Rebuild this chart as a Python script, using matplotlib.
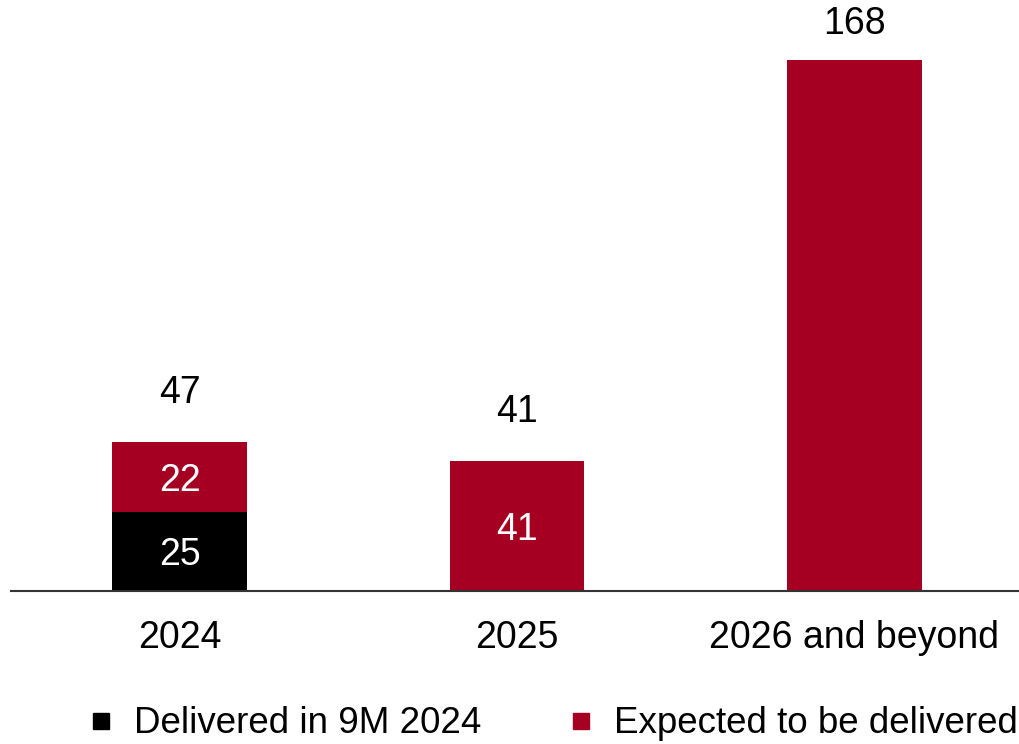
import matplotlib
matplotlib.use("Agg")
import matplotlib.pyplot as plt
from matplotlib.lines import Line2D

plt.rcParams['font.family'] = ['Liberation Sans', 'DejaVu Sans']

# data
categories = ['2024', '2025', '2026 and beyond']
delivered = [25, 0, 0]
expected = [22, 41, 168]
totals = [47, 41, 168]

red = '#A50021'
fs = 27

fig = plt.figure(figsize=(10.2, 7.44), dpi=100)
ax = fig.add_axes([11 / 1020, 153 / 744, 1012 / 1020, 569 / 744])

x = range(len(categories))
ax.bar(x, delivered, width=0.4, color='black')
ax.bar(x, expected, width=0.4, bottom=delivered, color=red)

# labels inside segments
for i in x:
    if delivered[i]:
        ax.text(i, delivered[i] / 2, str(delivered[i]), color='white',
                ha='center', va='center_baseline', fontsize=fs)
    if expected[i] and expected[i] < 100:
        ax.text(i, delivered[i] + expected[i] / 2, str(expected[i]), color='white',
                ha='center', va='center_baseline', fontsize=fs)

# totals above bars
for i in x:
    off = 18 if totals[i] > 150 else 31
    ax.annotate(str(totals[i]), (i, totals[i]), xytext=(0, off),
                textcoords='offset pixels', ha='center', va='bottom', fontsize=fs)

ax.set_xlim(-0.5, 2.5)
ax.set_ylim(0, 180)
ax.set_xticks(list(x))
ax.set_xticklabels(categories, fontsize=fs)
ax.tick_params(axis='x', length=0, pad=21)
ax.set_yticks([])
for s in ['top', 'right', 'left']:
    ax.spines[s].set_visible(False)
ax.spines['bottom'].set_color('#333333')
ax.spines['bottom'].set_linewidth(1.5)

handles = [Line2D([], [], marker='s', linestyle='', color='black', markersize=11),
           Line2D([], [], marker='s', linestyle='', color=red, markersize=11)]
fig.legend(handles, ['Delivered in 9M 2024', 'Expected to be delivered'],
           loc='center', bbox_to_anchor=(0.543, 0.027), ncol=2, frameon=False,
           fontsize=26.5, handlelength=0.6, handletextpad=0.6, columnspacing=2.4)

fig.savefig('out.png', dpi=100)
